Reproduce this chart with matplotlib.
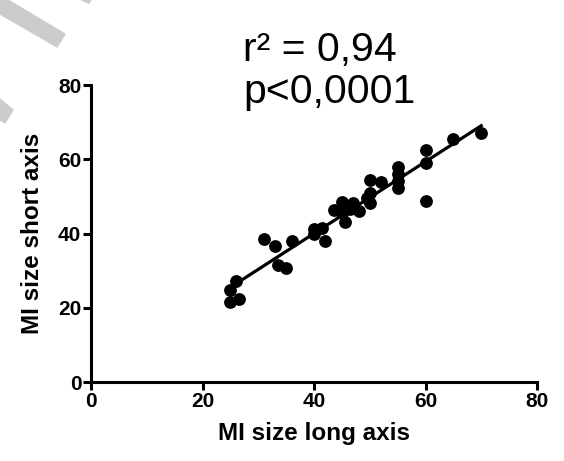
import numpy as np
import matplotlib
matplotlib.use("Agg")
import matplotlib.pyplot as plt
from matplotlib.patches import Polygon

# MI size, long axis vs short axis
long_axis = [25, 25, 26, 26.5, 31, 33, 33.5, 35, 36, 40, 40, 41.5, 42,
             43.5, 45, 45, 45.5, 46.5, 47, 48, 49.5, 50, 50, 50, 52,
             55, 55, 55, 55, 60, 60, 60, 65, 70]
short_axis = [24.9, 21.6, 27.1, 22.4, 38.4, 36.6, 31.6, 30.7, 38.0, 41.1, 39.8, 41.4, 37.9,
              46.3, 48.6, 45.6, 43.0, 46.5, 48.3, 46.0, 49.5, 54.4, 51.0, 48.3, 53.9,
              57.8, 55.9, 54.1, 52.3, 62.5, 59.1, 48.7, 65.5, 67.2]
ticks = [0, 20, 40, 60, 80]
stats_text = "r² = 0,94\np<0,0001"

W, H = 564, 461
fig = plt.figure(figsize=(W / 100, H / 100), dpi=100)
ax = fig.add_axes([91 / W, 1 - 382 / H, (537 - 91) / W, (382 - 85) / H])

x = np.array(long_axis)
y = np.array(short_axis)

# linear fit
k, b = np.polyfit(x, y, 1)
xx = np.array([x.min(), x.max()])
ax.plot(xx, k * xx + b, color="black", lw=2.3, zorder=2)
ax.scatter(x, y, s=85, color="black", zorder=3, linewidths=0)

ax.set_xlim(0, 80)
ax.set_ylim(0, 80)
ax.set_xticks(ticks)
ax.set_yticks(ticks)
for s in ["top", "right"]:
    ax.spines[s].set_visible(False)
for s in ["left", "bottom"]:
    ax.spines[s].set_linewidth(2.2)
ax.tick_params(width=2.2, length=6, labelsize=15, pad=1)
for lab in ax.get_xticklabels() + ax.get_yticklabels():
    lab.set_fontfamily("Liberation Sans")
    lab.set_fontweight("bold")

ax.set_xlabel("MI size long axis", fontsize=17.5, fontweight="bold",
              family="Liberation Sans", labelpad=8)
ax.set_ylabel("MI size short axis", fontsize=17.5, fontweight="bold",
              family="Liberation Sans", labelpad=10)

fig.text(243 / W, 1 - 103 / H, stats_text, fontsize=29.5, family="Liberation Sans",
         ha="left", va="baseline", linespacing=1.15)

# grey watermark bits in the corner
wm = "#cccccc"
for pts in [[(0, 0), (8, 0), (65, 34), (57, 47), (0, 14)],
            [(81, 0), (91, 0), (89, 3)],
            [(0, 99), (13, 110), (5, 123), (0, 120)]]:
    fig.patches.append(Polygon([(px / W, 1 - py / H) for px, py in pts],
                               closed=True, color=wm, transform=fig.transFigure,
                               zorder=0))

fig.savefig("out.png", dpi=100)
